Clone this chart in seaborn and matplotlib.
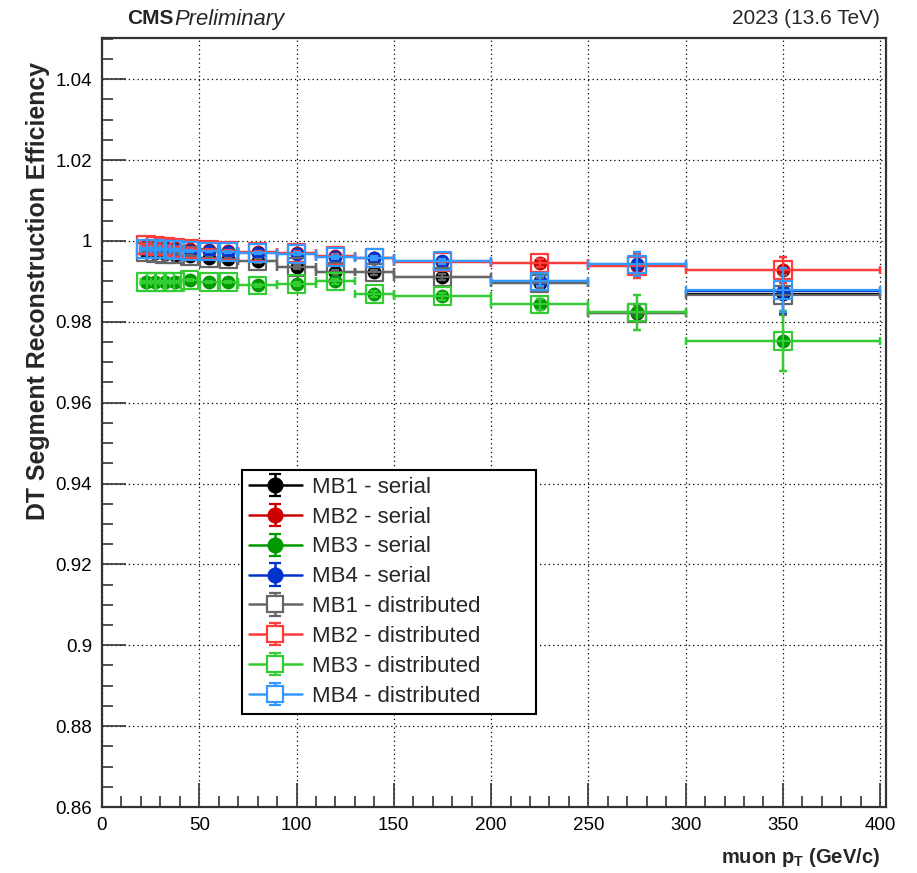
import numpy as np
import pandas as pd
import matplotlib
matplotlib.use('Agg')
import matplotlib.pyplot as plt
from matplotlib.ticker import MultipleLocator, FuncFormatter
import seaborn as sns

# pT bins (centre and half width, GeV/c)
pt_center = [22.5, 27.5, 32.5, 37.5, 45, 55, 65, 80, 100, 120, 140, 175, 225, 275, 350]
pt_halfwidth = [2.5, 2.5, 2.5, 2.5, 5, 5, 5, 10, 10, 10, 10, 25, 25, 25, 50]

# efficiencies
eff_mb1_serial = [0.9972, 0.9970, 0.9968, 0.9966, 0.9963, 0.9958, 0.9955, 0.9950,
                  0.9936, 0.9923, 0.9922, 0.9911, 0.9895, 0.9822, 0.9868]
eff_mb2_serial = [0.9990, 0.9988, 0.9986, 0.9983, 0.9980, 0.9977, 0.9975, 0.9972,
                  0.9970, 0.9962, 0.9957, 0.9948, 0.9946, 0.9938, 0.9928]
eff_mb3_serial = [0.9898, 0.9898, 0.9898, 0.9899, 0.9903, 0.9899, 0.9899, 0.9890,
                  0.9893, 0.9900, 0.9868, 0.9863, 0.9843, 0.9823, 0.9752]
eff_mb4_serial = [0.9980, 0.9980, 0.9979, 0.9978, 0.9975, 0.9974, 0.9972, 0.9970,
                  0.9968, 0.9960, 0.9957, 0.9950, 0.9900, 0.9942, 0.9877]

eff_mb1_dist = [0.9972, 0.9970, 0.9968, 0.9966, 0.9963, 0.9958, 0.9955, 0.9950,
                0.9936, 0.9923, 0.9922, 0.9911, 0.9895, 0.9822, 0.9866]
eff_mb2_dist = [0.9990, 0.9988, 0.9986, 0.9983, 0.9980, 0.9977, 0.9975, 0.9972,
                0.9970, 0.9962, 0.9957, 0.9948, 0.9946, 0.9938, 0.9928]
eff_mb3_dist = [0.9898, 0.9898, 0.9898, 0.9899, 0.9903, 0.9899, 0.9899, 0.9890,
                0.9893, 0.9900, 0.9868, 0.9863, 0.9843, 0.9823, 0.9752]
eff_mb4_dist = [0.9980, 0.9980, 0.9979, 0.9978, 0.9975, 0.9974, 0.9972, 0.9970,
                0.9968, 0.9960, 0.9957, 0.9950, 0.9900, 0.9942, 0.9879]

# vertical uncertainties
err_mb1 = [0.0003, 0.0003, 0.0003, 0.0003, 0.0003, 0.0003, 0.0003, 0.0004,
           0.0005, 0.0006, 0.0007, 0.0007, 0.0012, 0.0020, 0.0050]
err_mb2 = [0.0002, 0.0002, 0.0002, 0.0002, 0.0002, 0.0002, 0.0003, 0.0003,
           0.0004, 0.0005, 0.0005, 0.0006, 0.0010, 0.0030, 0.0032]
err_mb3 = [0.0003, 0.0003, 0.0003, 0.0003, 0.0003, 0.0003, 0.0003, 0.0004,
           0.0005, 0.0006, 0.0007, 0.0008, 0.0013, 0.0043, 0.0075]
err_mb4 = [0.0002, 0.0002, 0.0002, 0.0002, 0.0002, 0.0002, 0.0003, 0.0003,
           0.0004, 0.0005, 0.0005, 0.0006, 0.0012, 0.0030, 0.0055]

labels = ['MB1 - serial', 'MB2 - serial', 'MB3 - serial', 'MB4 - serial',
          'MB1 - distributed', 'MB2 - distributed', 'MB3 - distributed', 'MB4 - distributed']
values = [eff_mb1_serial, eff_mb2_serial, eff_mb3_serial, eff_mb4_serial,
          eff_mb1_dist, eff_mb2_dist, eff_mb3_dist, eff_mb4_dist]
errors = [err_mb1, err_mb2, err_mb3, err_mb4, err_mb1, err_mb2, err_mb3, err_mb4]
colors = ['#000000', '#cc0000', '#009900', '#0033cc',
          '#666666', '#ff3b3b', '#33cc33', '#3399ff']

sns.set_style('ticks')
plt.rcParams['font.family'] = ['Liberation Sans', 'DejaVu Sans']
plt.rcParams['mathtext.fontset'] = 'custom'
plt.rcParams['mathtext.rm'] = 'Liberation Sans:bold'

fig = plt.figure(figsize=(9.17, 8.73), dpi=100)
ax = fig.add_axes([0.1112, 0.0756, 0.855, 0.881])

handles = []
for i, (lab, val, err, col) in enumerate(zip(labels, values, errors, colors)):
    serial = i < 4
    z = 3 + i
    ax.errorbar(pt_center, val, xerr=pt_halfwidth, yerr=err, fmt='none',
                ecolor=col, elinewidth=1.6, capsize=3, capthick=1.6, zorder=z)
    df = pd.DataFrame({'pt': pt_center, 'eff': val})
    if serial:
        sns.scatterplot(data=df, x='pt', y='eff', ax=ax, marker='o', s=100,
                        color=col, edgecolor=col, linewidth=0, zorder=z, legend=False)
    else:
        sns.scatterplot(data=df, x='pt', y='eff', ax=ax, marker='s', s=160,
                        color=col, facecolor='none', edgecolor=col, linewidth=1.6,
                        zorder=z, legend=False)
    # dummy container for the legend entry
    h = ax.errorbar([np.nan], [np.nan], yerr=[0.001], fmt='-' + ('o' if serial else 's'),
                    color=col, lw=1.8, ms=10 if serial else 11,
                    mfc=col if serial else 'white', mec=col, mew=1.6,
                    elinewidth=1.8, capsize=4, capthick=1.8, label=lab)
    handles.append(h)

ax.set_xlim(0, 403)
ax.set_ylim(0.86, 1.0502)
ax.xaxis.set_major_locator(MultipleLocator(50))
ax.xaxis.set_minor_locator(MultipleLocator(10))
ax.yaxis.set_major_locator(MultipleLocator(0.02))
ax.yaxis.set_minor_locator(MultipleLocator(0.005))
ax.yaxis.set_major_formatter(FuncFormatter(lambda v, p: '%g' % round(v, 4)))
ax.tick_params(which='both', direction='in', top=False, right=False,
               labelsize=13.5, pad=7, colors='#333333', labelcolor='black')
ax.tick_params(which='major', length=17, width=1.2)
ax.tick_params(which='minor', length=8, width=1.2)
for s in ax.spines.values():
    s.set_linewidth(1.6)
    s.set_color('#333333')
ax.grid(True, which='major', color='black', linestyle=(0, (1, 2.5)), linewidth=0.9)
ax.set_axisbelow(True)
ax.set_xlabel('')
ax.set_ylabel('')

ax.text(-0.082, 0.969, 'DT Segment Reconstruction Efficiency', transform=ax.transAxes,
        rotation=90, ha='center', va='top', fontsize=17.9, fontweight='bold')
ax.text(0.992, -0.066, r'muon p$_{\mathrm{T}}$ (GeV/c)', transform=ax.transAxes,
        ha='right', va='center', fontsize=14.5, fontweight='bold')

fig.text(127 / 917, 1 - 18 / 873, 'CMS', fontsize=15, fontweight='bold', ha='left', va='center')
fig.text(174 / 917, 1 - 19 / 873, 'Preliminary', fontsize=15.8, fontstyle='italic',
         ha='left', va='center')
fig.text(880 / 917, 1 - 18 / 873, '2023 (13.6 TeV)', fontsize=15, ha='right', va='center')

leg = ax.legend(handles=handles, labels=labels, loc='upper left', mode='expand',
                bbox_to_anchor=(0.1786, 0.1256, 0.375, 0.3126), fontsize=16, frameon=True,
                fancybox=False, framealpha=1, edgecolor='black', borderaxespad=0,
                borderpad=0.3, labelspacing=0.4, handlelength=2.4, handletextpad=0.45)
leg.get_frame().set_linewidth(1.5)

fig.savefig('out.png', dpi=100, facecolor='white')
